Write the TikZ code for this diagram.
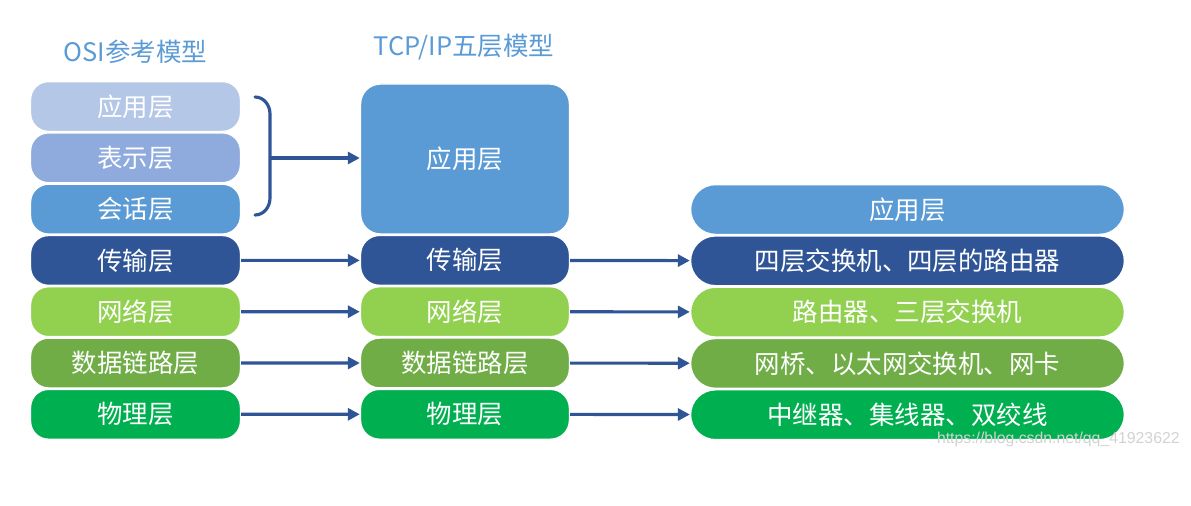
\documentclass[tikz,border=0pt]{standalone}
\usepackage{fontspec}
\setmainfont{Noto Sans CJK SC}
\newfontfamily\urlfont{Liberation Sans}
\usepackage{tikz}
\usetikzlibrary{
    arrows.meta,
    positioning
}
\definecolor{applight}{HTML}{B4C7E7}
\definecolor{presblue}{HTML}{8FAADC}
\definecolor{appblue}{HTML}{5B9BD5}
\definecolor{transblue}{HTML}{2F5597}
\definecolor{netgreen}{HTML}{92D050}
\definecolor{linkgreen}{HTML}{70AD47}
\definecolor{physgreen}{HTML}{00B050}
\definecolor{arrowblue}{HTML}{2F5597}
\tikzstyle{layer} = [
    rectangle,
    draw=white,
    line width=0.8pt,
    minimum height=28.4pt,
    inner sep=0pt,
    text=white,
    font=\fontsize{14.5}{17}\selectfont
]
\tikzstyle{osi} = [
    layer,
    minimum width=4.2cm,
    rounded corners=0.36cm
]
\tikzstyle{tcp} = [
    layer,
    minimum width=4.18cm,
    rounded corners=0.38cm
]
\tikzstyle{device} = [
    layer,
    minimum width=8.68cm,
    rounded corners=0.5cm
]
\tikzstyle{title} = [
    text=appblue,
    font=\fontsize{14.5}{17}\selectfont
]
\tikzstyle{link} = [
    -{Triangle[length=0.24cm, width=0.24cm]},
    line width=1.8pt,
    draw=arrowblue
]
\tikzstyle{brace} = [
    line width=1.8pt,
    draw=arrowblue,
    line cap=round
]

\begin{document}
\begin{tikzpicture}[x=0.02cm, y=-0.02cm]
    \useasboundingbox (0,0) rectangle (1191,505);

    % Titles
    \node[title] (osititle) at (135.5,52) {OSI参考模型};
    \node[title] (tcptitle) at (464,47) {TCP/IP五层模型};

    % OSI column
    \node[osi, fill=applight] (osiapp) at (135.5,106.5) {应用层};
    \node[osi, fill=presblue, below=0pt of osiapp] (osipres) {表示层};
    \node[osi, fill=appblue, below=0pt of osipres] (osisess) {会话层};
    \node[osi, fill=transblue, below=0pt of osisess] (ositrans) {传输层};
    \node[osi, fill=netgreen, below=0pt of ositrans] (osinet) {网络层};
    \node[osi, fill=linkgreen, below=0pt of osinet] (osilink) {数据链路层};
    \node[osi, fill=physgreen, below=0pt of osilink] (osiphys) {物理层};

    % TCP/IP column
    \node[tcp, fill=appblue, minimum height=85.4pt, rounded corners=0.4cm] (tcpapp) at (465,159) {应用层};
    \node[tcp, fill=transblue, below=0pt of tcpapp] (tcptrans) {传输层};
    \node[tcp, fill=netgreen, below=0pt of tcptrans] (tcpnet) {网络层};
    \node[tcp, fill=linkgreen, below=0pt of tcpnet] (tcplink) {数据链路层};
    \node[tcp, fill=physgreen, below=0pt of tcplink] (tcpphys) {物理层};

    % Device column
    \node[device, fill=appblue] (devapp) at (907.5,209.5) {应用层};
    \node[device, fill=transblue, below=0pt of devapp] (devtrans) {四层交换机、四层的路由器};
    \node[device, fill=netgreen, below=0pt of devtrans] (devnet) {路由器、三层交换机};
    \node[device, fill=linkgreen, below=0pt of devnet] (devlink) {网桥、以太网交换机、网卡};
    \node[device, fill=physgreen, below=0pt of devlink] (devphys) {中继器、集线器、双绞线};

    % Brace over the upper three layers
    \draw[brace] (255,97) to[out=0, in=90] (270,114) -- (270,198) to[out=-90, in=0] (255,215);
    \coordinate (bracemid) at (270,158);
    \draw[link] (bracemid) -- (bracemid -| tcpapp.west);

    % Arrows
    \foreach \row in {trans, net, link, phys} {
        \draw[link] (osi\row) -- (tcp\row);
        \draw[link] (tcp\row) -- (dev\row);
    }

    % Watermark
    \node[text=gray!35, font=\urlfont\fontsize{9}{10}\selectfont, anchor=east, inner sep=0pt] (mark) at (1180,439) {https://blog.csdn.net/qq\_41923622};
\end{tikzpicture}
\end{document}
